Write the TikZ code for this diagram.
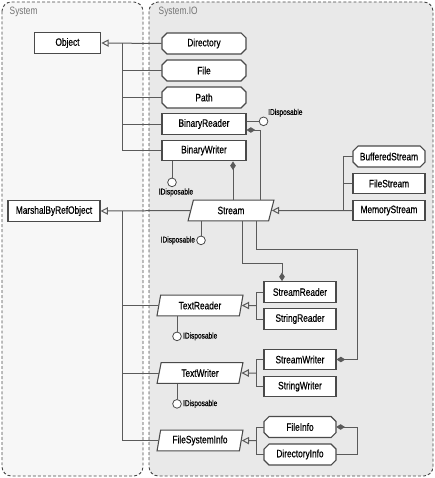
\documentclass[tikz,border=0pt]{standalone}
\usepackage{fontspec}
\setmainfont{Liberation Sans}[FakeStretch=0.78, FakeBold=0.5]
\newfontfamily\pkgfont{Liberation Sans}[FakeStretch=0.78]
\usetikzlibrary{arrows.meta,shapes.geometric,calc}
\definecolor{sysfill}{HTML}{F7F7F7}
\definecolor{iofill}{HTML}{E9E9E9}
\definecolor{edge}{HTML}{4A4A4A}
\definecolor{wire}{HTML}{5A5A5A}
% sealed class: chamfered outline, then the named node on top
% #1 name, #2 x, #3 y, #4 half width (px), #5 text
\newcommand{\sealedbox}[5]{%
  \filldraw[outline] ({#2-#4+5},#3-10.5) -- ({#2+#4-5},#3-10.5) -- ({#2+#4},#3-5.5)
    -- ({#2+#4},#3+5.5) -- ({#2+#4-5},#3+10.5) -- ({#2-#4+5},#3+10.5)
    -- ({#2-#4},#3+5.5) -- ({#2-#4},#3-5.5) -- cycle;
  \node[sealed, minimum width={#4*1.5pt}] (#1) at (#2,#3) {#5};}
\begin{document}
\begin{tikzpicture}[x=0.75pt, y=-0.75pt, line join=miter,
    panel/.style={draw=edge, dash pattern=on 2.2pt off 1.6pt, line width=0.7pt, rounded corners=7pt},
    pkg/.style={anchor=west, text=black!55, font=\pkgfont\fontsize{8}{9}\selectfont},
    outline/.style={draw=edge, fill=white, line width=0.8pt},
    cls/.style={outline, inner sep=0pt, font=\fontsize{8}{9}\selectfont, minimum height=15.5pt},
    sealed/.style={rectangle, inner sep=0pt, font=\fontsize{8}{9}\selectfont, minimum height=15.5pt},
    abst/.style={cls, trapezium, trapezium left angle=76, trapezium right angle=104,
      trapezium stretches=true},
    iface/.style={circle, draw=edge, fill=white, line width=0.6pt, minimum size=6.5pt, inner sep=0pt},
    ilabel/.style={inner sep=0.8pt, font=\fontsize{6.3}{7}\selectfont},
    link/.style={draw=wire, line width=0.75pt},
    inherit/.style={link, -{Triangle[open, length=5.5pt, width=5.5pt]}},
    owns/.style={link, {Diamond[length=6.5pt, width=4.2pt]}-}]
  \useasboundingbox (0,0) rectangle (435,478);
  \draw[panel, fill=sysfill] (2,2) rectangle (143,476);
  \draw[panel, fill=iofill] (149,2) rectangle (433,476);
  \node[pkg] (syslabel) at (5,12) {System};
  \node[pkg] (iolabel) at (154,12) {System.IO};
  \node[cls, minimum width=50pt] (object) at (67.5,43) {Object};
  \node[cls, minimum width=69pt] (marshal) at (54,211) {MarshalByRefObject};
  \sealedbox{directory}{204}{43.5}{42}{Directory}
  \sealedbox{file}{204}{70.5}{42}{File}
  \sealedbox{path}{204}{97.5}{42}{Path}
  \node[cls, minimum width=63pt] (breader) at (204,124) {BinaryReader};
  \node[cls, minimum width=63pt] (bwriter) at (204,150.5) {BinaryWriter};
  \node[abst, minimum width=64.5pt] (stream) at (231,210.5) {Stream};
  \sealedbox{buffered}{389}{156.5}{36}{BufferedStream}
  \node[cls, minimum width=54pt] (filestream) at (389,183.5) {FileStream};
  \node[cls, minimum width=54pt] (memstream) at (389,210.5) {MemoryStream};
  \node[abst, minimum width=64.5pt] (treader) at (200,305.5) {TextReader};
  \node[cls, minimum width=54pt] (sreader) at (300,292) {StreamReader};
  \node[cls, minimum width=54pt] (strreader) at (300,319) {StringReader};
  \node[abst, minimum width=64.5pt] (twriter) at (200,373) {TextWriter};
  \node[cls, minimum width=54pt] (swriter) at (300,359.5) {StreamWriter};
  \node[cls, minimum width=54pt] (strwriter) at (300,386.5) {StringWriter};
  \node[abst, minimum width=64.5pt] (fsinfo) at (200,440.5) {FileSystemInfo};
  \sealedbox{finfo}{300}{427}{36}{FileInfo}
  \sealedbox{dinfo}{300}{454.5}{36}{DirectoryInfo}
  \coordinate (objbus) at (122,43);
  \coordinate (mbrbus) at (122,211);
  \coordinate (strbus) at (343,210.5);
  \coordinate (trbus) at ($(sreader.west)!0.5!(strreader.west)+(-7,0)$);
  \coordinate (twbus) at ($(swriter.west)!0.5!(strwriter.west)+(-7,0)$);
  \coordinate (fsbus) at ($(finfo.west)!0.5!(dinfo.west)+(-7,0)$);
  \draw[inherit] (directory.west) -- (object.east);
  \draw[link] (file.west) -- (file.west -| objbus);
  \draw[link] (path.west) -- (path.west -| objbus);
  \draw[link] (breader.west) -- (breader.west -| objbus);
  \draw[link] (bwriter.west) -| (objbus);
  \draw[inherit] (stream.west) -- (marshal.east);
  \draw[link] (treader.west) -- (treader.west -| mbrbus);
  \draw[link] (twriter.west) -- (twriter.west -| mbrbus);
  \draw[link] (fsinfo.west) -| (mbrbus);
  \draw[inherit] (memstream.west) -- (stream.east);
  \draw[link] (filestream.west) -- (filestream.west -| strbus);
  \draw[link] (buffered.west) -| (strbus);
  \draw[link] (sreader.west) -| (trbus) |- (strreader.west);
  \draw[inherit] (trbus) -- (treader.east);
  \draw[link] (swriter.west) -| (twbus) |- (strwriter.west);
  \draw[inherit] (twbus) -- (twriter.east);
  \draw[link] (finfo.west) -| (fsbus) |- (dinfo.west);
  \draw[inherit] (fsbus) -- (fsinfo.east);
  \draw[owns] ([yshift=-4.5pt]breader.east) -| ([xshift=21.75pt]stream.north);
  \draw[owns] ([xshift=21.75pt]bwriter.south) -- ([xshift=21.75pt]bwriter.south |- stream.north);
  \draw[owns] ([xshift=-13.5pt]sreader.north) -- ++(0,-18) -| ([xshift=8.25pt]stream.south);
  \draw[owns] (swriter.east) -- ++(21,0) -- ++(0,-110.5) -| ([xshift=18.75pt]stream.south);
  \draw[owns] (finfo.east) -- ++(21,0) |- (dinfo.east);
  \node[iface] (brid) at ([xshift=12.75pt, yshift=2pt]breader.east) {};
  \draw[link] ([yshift=2pt]breader.east) -- (brid);
  \node[ilabel, anchor=south west] (brtxt) at (brid.north east) {IDisposable};
  \node[iface] (bwid) at ([xshift=-24pt, yshift=-15.75pt]bwriter.south) {};
  \draw[link] ([xshift=-24pt]bwriter.south) -- (bwid);
  \node[ilabel, anchor=north] (bwtxt) at ([xshift=3pt]bwid.south) {IDisposable};
  \node[iface] (stid) at ([xshift=-22.5pt, yshift=-14.25pt]stream.south) {};
  \draw[link] ([xshift=-22.5pt]stream.south) -- (stid);
  \node[ilabel, anchor=east] (sttxt) at (stid.west) {IDisposable};
  \node[iface] (trid) at ([xshift=-17.25pt, yshift=-15pt]treader.south) {};
  \draw[link] ([xshift=-17.25pt]treader.south) -- (trid);
  \node[ilabel, anchor=west] (trtxt) at (trid.east) {IDisposable};
  \node[iface] (twid) at ([xshift=-17.25pt, yshift=-15pt]twriter.south) {};
  \draw[link] ([xshift=-17.25pt]twriter.south) -- (twid);
  \node[ilabel, anchor=west] (twtxt) at (twid.east) {IDisposable};
\end{tikzpicture}
\end{document}
